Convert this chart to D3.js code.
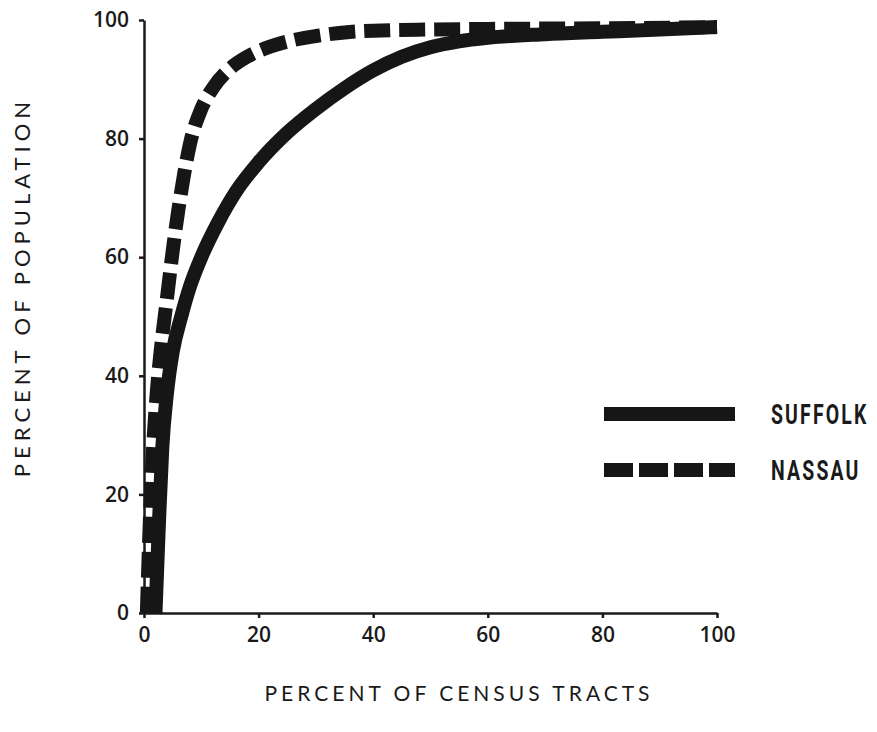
<!DOCTYPE html>
<html>
<head>
<meta charset="utf-8">
<script src="https://cdn.jsdelivr.net/npm/d3@7"></script>
<style>
body { margin: 0; background: #fff; }
text { fill: #1a1a1a; }
</style>
</head>
<body>
<script>
// values (percent of tracts -> percent of population)
var suffolkX = [2, 2.6, 3.2, 4, 5, 6.5, 8, 10, 13, 16, 20, 25, 30, 35, 40, 45, 50, 55, 60, 70, 80, 90, 100];
var suffolkY = [0, 15, 28, 37, 44, 50, 55, 60, 66, 71, 76, 81, 85, 88.5, 91.5, 93.8, 95.4, 96.4, 97, 97.6, 98, 98.4, 98.8];
var nassauX = [0.5, 1, 1.6, 2.3, 3, 4, 5, 6, 7, 8, 10, 12, 15, 18, 22, 26, 30, 35, 40, 50, 60, 80, 100];
var nassauY = [0, 15, 28, 38, 45, 53, 61, 68, 74, 79, 85, 88.5, 91.8, 93.8, 95.5, 96.6, 97.3, 97.9, 98.2, 98.4, 98.5, 98.6, 98.8];
var xTicks = [0, 20, 40, 60, 80, 100];
var yTicks = [0, 20, 40, 60, 80, 100];
var legendNames = ["SUFFOLK", "NASSAU"];

var width = 877, height = 732;
var svg = d3.select("body").append("svg").attr("width", width).attr("height", height);

var x = d3.scaleLinear().domain([0, 100]).range([144, 717]);
var y = d3.scaleLinear().domain([0, 100]).range([613, 20]);

var tickFont = "'Open Sans', 'Lato', sans-serif";
var titleFont = "'Lato', 'Open Sans', sans-serif";

// x axis
var xAxis = svg.append("g").attr("transform", "translate(0," + y(0) + ")")
  .call(d3.axisBottom(x).tickValues(xTicks).tickSize(5).tickPadding(9).tickSizeOuter(0));
xAxis.select(".domain").attr("stroke", "#1a1a1a").attr("stroke-width", 2.5);
xAxis.selectAll(".tick line").attr("stroke", "#1a1a1a").attr("stroke-width", 2.5);
xAxis.selectAll("text").style("font-family", tickFont).style("font-size", "21px")
  .style("font-weight", 600).attr("fill", "#1a1a1a");

// y axis
var yAxis = svg.append("g").attr("transform", "translate(" + x(0) + ",0)")
  .call(d3.axisLeft(y).tickValues(yTicks).tickSize(5).tickPadding(10).tickSizeOuter(0));
yAxis.select(".domain").attr("stroke", "#1a1a1a").attr("stroke-width", 2.5);
yAxis.selectAll(".tick line").attr("stroke", "#1a1a1a").attr("stroke-width", 2.5);
yAxis.selectAll("text").style("font-family", tickFont).style("font-size", "21px")
  .style("font-weight", 600).attr("fill", "#1a1a1a");

// axis titles
svg.append("text")
  .attr("x", 459).attr("y", 701)
  .attr("text-anchor", "middle")
  .style("font-family", titleFont).style("font-size", "21px").style("letter-spacing", "4px")
  .text("PERCENT OF CENSUS TRACTS");

svg.append("text")
  .attr("transform", "translate(30,287) rotate(-90)")
  .attr("text-anchor", "middle")
  .style("font-family", titleFont).style("font-size", "22px").style("letter-spacing", "5px")
  .text("PERCENT OF POPULATION");

// curves
var line = d3.line().x(function(d) { return x(d[0]); }).y(function(d) { return y(d[1]); })
  .curve(d3.curveMonotoneX);

var suffolk = d3.zip(suffolkX, suffolkY);
var nassau = d3.zip(nassauX, nassauY);

svg.append("path").datum(nassau)
  .attr("d", line)
  .attr("fill", "none").attr("stroke", "#161616").attr("stroke-width", 14)
  .attr("stroke-dasharray", "26,9");

svg.append("path").datum(suffolk)
  .attr("d", line)
  .attr("fill", "none").attr("stroke", "#161616").attr("stroke-width", 14);

// legend
var legend = svg.append("g");
legendNames.forEach(function(name, i) {
  var ly = 414 + i * 56;
  legend.append("line")
    .attr("x1", 604).attr("x2", 735).attr("y1", ly).attr("y2", ly)
    .attr("stroke", "#161616").attr("stroke-width", 14)
    .attr("stroke-dasharray", i == 0 ? null : "29,6");
  legend.append("text")
    .attr("transform", "translate(771," + (ly + 10) + ") scale(0.72,1)")
    .style("font-family", "'Roboto', 'DejaVu Sans', sans-serif")
    .style("font-weight", "bold").style("font-size", "27px").style("letter-spacing", "3px")
    .text(name);
});
</script>
</body>
</html>
